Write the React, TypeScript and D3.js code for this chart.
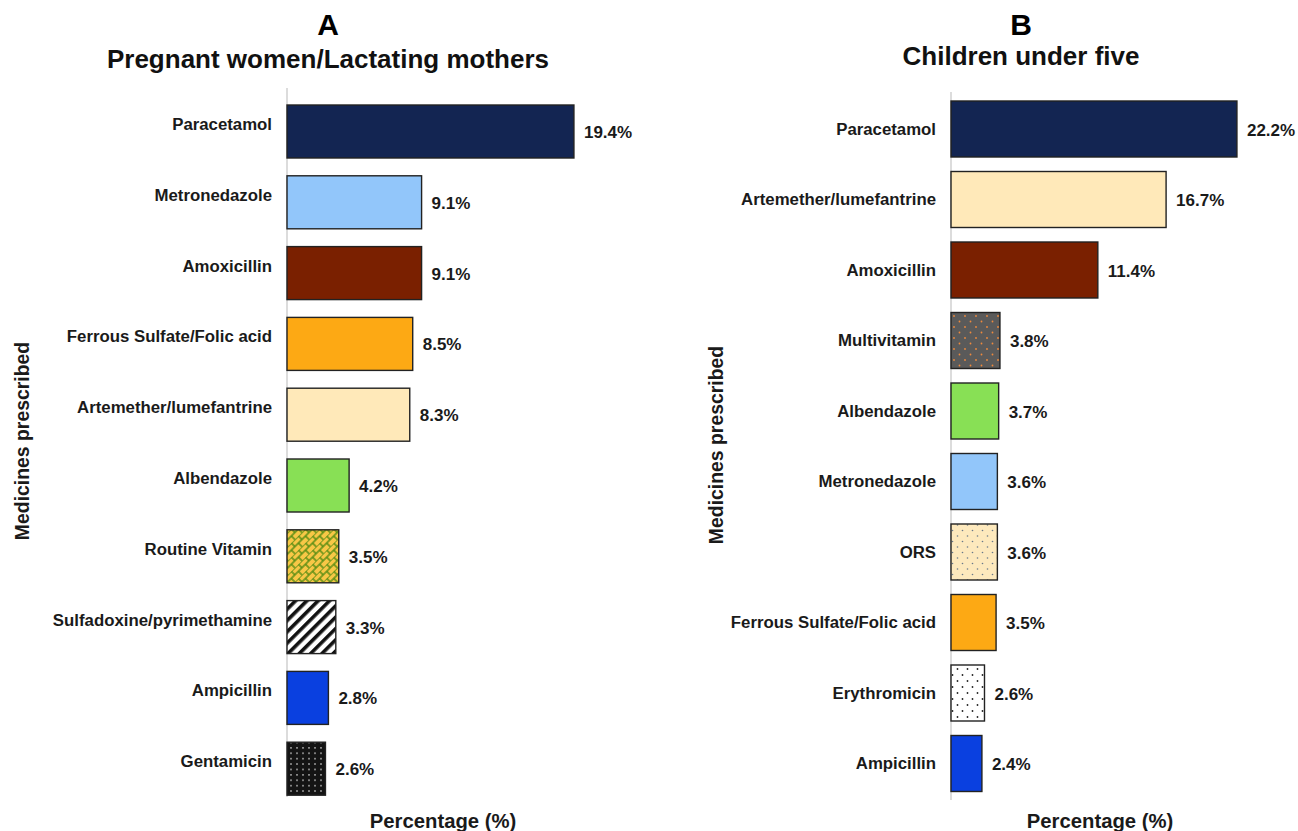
import React from "react";
import * as d3 from "d3";

const catsA = [
  "Paracetamol",
  "Metronedazole",
  "Amoxicillin",
  "Ferrous Sulfate/Folic acid",
  "Artemether/lumefantrine",
  "Albendazole",
  "Routine Vitamin",
  "Sulfadoxine/pyrimethamine",
  "Ampicillin",
  "Gentamicin",
];
const valsA = [19.4, 9.1, 9.1, 8.5, 8.3, 4.2, 3.5, 3.3, 2.8, 2.6];

const catsB = [
  "Paracetamol",
  "Artemether/lumefantrine",
  "Amoxicillin",
  "Multivitamin",
  "Albendazole",
  "Metronedazole",
  "ORS",
  "Ferrous Sulfate/Folic acid ",
  "Erythromicin",
  "Ampicillin",
];
const valsB = [22.2, 16.7, 11.4, 3.8, 3.7, 3.6, 3.6, 3.5, 2.6, 2.4];

const fills: Record<string, string> = {
  Paracetamol: "#132552",
  Metronedazole: "#92c6fa",
  Amoxicillin: "#7a2000",
  "Ferrous Sulfate/Folic acid": "#fda914",
  "Ferrous Sulfate/Folic acid ": "#fda914",
  "Artemether/lumefantrine": "#ffe9b9",
  Albendazole: "#88e055",
  "Routine Vitamin": "url(#pBrick)",
  "Sulfadoxine/pyrimethamine": "url(#pStripe)",
  Ampicillin: "#0a40e0",
  Gentamicin: "url(#pBlackDots)",
  Multivitamin: "url(#pGrayDots)",
  ORS: "url(#pCreamDots)",
  Erythromicin: "url(#pWhiteDots)",
};

const FONT = "'Liberation Sans', Arial, Helvetica, sans-serif";

type PanelProps = {
  cats: string[];
  vals: number[];
  axisX: number;
  pxPerUnit: number;
  maxV: number;
  barTop: number;
  step: number;
  barH: number;
  axisTop: number;
  axisBottom: number;
  labelDy: number;
  letter: string;
  title: string;
  titleX: number;
  letterY: number;
  titleY: number;
  yTitleX: number;
  yTitleY: number;
  xTitleX: number;
};

function Panel(p: PanelProps) {
  const x = d3
    .scaleLinear()
    .domain([0, p.maxV])
    .range([p.axisX, p.axisX + p.maxV * p.pxPerUnit]);
  const pi = 1 - p.barH / p.step;
  const po = pi / 2;
  const r0 = p.barTop - p.step * po;
  const y = d3
    .scaleBand<string>()
    .domain(p.cats)
    .range([r0, r0 + p.step * p.cats.length])
    .paddingInner(pi)
    .paddingOuter(po);
  return (
    <g fontFamily={FONT} fontWeight="bold" fill="#1a1a1a">
      <text x={p.titleX} y={p.letterY} textAnchor="middle" fontSize={30} fill="#000">
        {p.letter}
      </text>
      <text x={p.titleX} y={p.titleY} textAnchor="middle" fontSize={26} fill="#111">
        {p.title}
      </text>
      <line
        x1={p.axisX}
        x2={p.axisX}
        y1={p.axisTop}
        y2={p.axisBottom}
        stroke="#c9c9c9"
        strokeWidth={1.3}
      />
      {p.cats.map((c, i) => {
        const yy = y(c)!;
        const v = p.vals[i];
        return (
          <g key={c + i}>
            <rect
              x={x(0)}
              y={yy}
              width={x(v) - x(0)}
              height={y.bandwidth()}
              fill={fills[c]}
              stroke="#222"
              strokeWidth={1.4}
            />
            <text
              x={p.axisX - 15}
              y={yy + y.bandwidth() / 2 + p.labelDy}
              textAnchor="end"
              dominantBaseline="central"
              fontSize={16.8}
            >
              {c}
            </text>
            <text
              x={x(v) + 10}
              y={yy + y.bandwidth() / 2 + 1}
              dominantBaseline="central"
              fontSize={17}
            >
              {v.toFixed(1) + "%"}
            </text>
          </g>
        );
      })}
      <text
        transform={`translate(${p.yTitleX},${p.yTitleY}) rotate(-90)`}
        textAnchor="middle"
        dominantBaseline="central"
        fontSize={19.4}
      >
        Medicines prescribed
      </text>
      <text x={p.xTitleX} y={821} textAnchor="middle" dominantBaseline="central" fontSize={20.3}>
        Percentage (%)
      </text>
    </g>
  );
}

export default function App() {
  return (
    <svg
      width={1298}
      height={831}
      style={{ position: "absolute", left: 0, top: 0, background: "#fff" }}
    >
      <defs>
        <pattern id="pBrick" width="10" height="10" patternUnits="userSpaceOnUse" patternTransform="rotate(-45)">
          <rect width="10" height="10" fill="#f8c746" />
          <line x1="0" y1="0" x2="10" y2="0" stroke="#4f8a10" strokeWidth="1.4" />
          <line x1="0" y1="5" x2="10" y2="5" stroke="#4f8a10" strokeWidth="1.4" />
          <line x1="2" y1="0" x2="2" y2="5" stroke="#4f8a10" strokeWidth="1.4" />
          <line x1="7" y1="5" x2="7" y2="10" stroke="#4f8a10" strokeWidth="1.4" />
        </pattern>
        <pattern id="pStripe" width="8" height="8" patternUnits="userSpaceOnUse" patternTransform="rotate(45)">
          <rect width="8" height="8" fill="#fff" />
          <rect x="0" y="0" width="3.6" height="8" fill="#111" />
        </pattern>
        <pattern id="pBlackDots" width="6" height="5.4" patternUnits="userSpaceOnUse">
          <rect width="6" height="5.4" fill="#141414" />
          <rect x="2.3" y="2" width="1.4" height="1.3" fill="#e8e8e8" />
        </pattern>
        <pattern id="pGrayDots" width="11" height="11" patternUnits="userSpaceOnUse">
          <rect width="11" height="11" fill="#5a5a5a" />
          <circle cx="2.5" cy="2.5" r="0.9" fill="#f08a3c" />
          <circle cx="8" cy="8" r="0.9" fill="#f08a3c" />
        </pattern>
        <pattern id="pCreamDots" width="10" height="11" patternUnits="userSpaceOnUse">
          <rect width="10" height="11" fill="#fde9bd" />
          <circle cx="2.5" cy="2.5" r="0.8" fill="#6a7a8a" />
          <circle cx="7.5" cy="8" r="0.8" fill="#6a7a8a" />
        </pattern>
        <pattern id="pWhiteDots" width="10" height="12" patternUnits="userSpaceOnUse">
          <rect width="10" height="12" fill="#fff" />
          <circle cx="2.5" cy="3" r="0.9" fill="#222" />
          <circle cx="7.5" cy="9" r="0.9" fill="#222" />
        </pattern>
      </defs>
      <Panel
        cats={catsA}
        vals={valsA}
        axisX={287}
        pxPerUnit={14.79}
        maxV={20}
        barTop={105}
        step={70.8}
        barH={53}
        axisTop={88}
        axisBottom={797}
        labelDy={-7}
        letter="A"
        title="Pregnant women/Lactating mothers"
        titleX={328}
        letterY={35}
        titleY={68}
        yTitleX={22}
        yTitleY={441}
        xTitleX={443}
      />
      <Panel
        cats={catsB}
        vals={valsB}
        axisX={951}
        pxPerUnit={12.88}
        maxV={23}
        barTop={101}
        step={70.5}
        barH={56}
        axisTop={92}
        axisBottom={800}
        labelDy={0}
        letter="B"
        title="Children under five"
        titleX={1021}
        letterY={35}
        titleY={65}
        yTitleX={716}
        yTitleY={445}
        xTitleX={1100}
      />
    </svg>
  );
}
